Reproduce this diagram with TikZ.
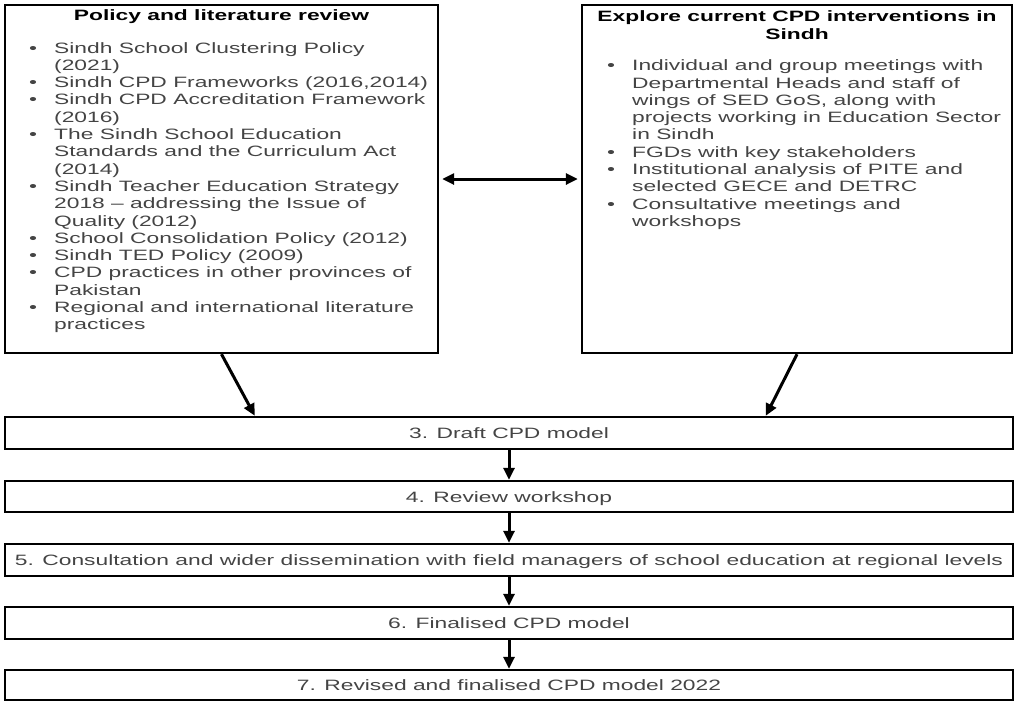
\documentclass[tikz,border=0pt]{standalone}
\usepackage{fontspec}
\setmainfont{Liberation Sans}[FakeStretch=1.52]
\usetikzlibrary{arrows.meta,calc}
\definecolor{bodygray}{HTML}{444444}
\begin{document}
\begin{tikzpicture}[x=1pt,y=-1pt,
  box/.style={draw,line width=2.4pt,inner sep=0pt},
  body/.style={text=bodygray,font=\fontsize{15}{17.3}\selectfont},
  ttl/.style={text=black,font=\fontsize{15}{17.3}\selectfont\bfseries},
  stepbox/.style={box,body,minimum width=1008pt,minimum height=32pt,text height=11pt,text depth=0pt},
  arr/.style={line width=3pt,-{Triangle[length=12pt,width=11pt]}},
  darr/.style={line width=3pt,{Triangle[length=12pt,width=11pt]}-{Triangle[length=12pt,width=11pt]}}]
\useasboundingbox (0,0) rectangle (1015,702);

% top boxes
\node[box,minimum width=433pt,minimum height=348pt] (lbox) at (221.5,179) {};
\node[box,minimum width=430pt,minimum height=348pt] (rbox) at (797,179) {};

\node[ttl,anchor=base,inner sep=0pt] (lttl) at (221.5,20) {Policy and literature review};
\node[body,anchor=base west,inner sep=0pt] (llist) at (29,53) {%
\begin{tabular}[t]{@{}p{25pt}@{}l@{}}
• & Sindh School Clustering Policy\\
  & (2021)\\
• & Sindh CPD Frameworks (2016,2014)\\
• & Sindh CPD Accreditation Framework\\
  & (2016)\\
• & The Sindh School Education\\
  & Standards and the Curriculum Act\\
  & (2014)\\
• & Sindh Teacher Education Strategy\\
  & 2018 – addressing the Issue of\\
  & Quality (2012)\\
• & School Consolidation Policy (2012)\\
• & Sindh TED Policy (2009)\\
• & CPD practices in other provinces of\\
  & Pakistan\\
• & Regional and international literature\\
  & practices
\end{tabular}};

\node[ttl,anchor=base,inner sep=0pt] (rttl) at (797,21.7) {%
\begin{tabular}[t]{@{}c@{}}
Explore current CPD interventions in\\
Sindh
\end{tabular}};
\node[body,anchor=base west,inner sep=0pt] (rlist) at (607,70.7) {%
\begin{tabular}[t]{@{}p{25pt}@{}l@{}}
• & Individual and group meetings with\\
  & Departmental Heads and staff of\\
  & wings of SED GoS, along with\\
  & projects working in Education Sector\\
  & in Sindh\\
• & FGDs with key stakeholders\\
• & Institutional analysis of PITE and\\
  & selected GECE and DETRC\\
• & Consultative meetings and\\
  & workshops
\end{tabular}};

% step boxes
\node[stepbox] (b3) at (509,433) {3. Draft CPD model};
\node[stepbox,minimum height=31pt] (b4) at (509,496.5) {4. Review workshop};
\node[stepbox] (b5) at (509,560) {5. Consultation and wider dissemination with field managers of school education at regional levels};
\node[stepbox] (b6) at (509,623) {6. Finalised CPD model};
\node[stepbox,minimum height=30pt] (b7) at (509,685) {7. Revised and finalised CPD model 2022};

% connectors
\draw[darr] ($(lbox.east)+(3,0)$) -- ($(rbox.west)+(-3,0)$);
\draw[arr] (lbox.south) -- ($(b3.north west)+(251,0)$);
\draw[arr] (rbox.south) -- ($(b3.north west)+(762,0)$);
\draw[arr] (b3.south) -- (b4.north);
\draw[arr] (b4.south) -- (b5.north);
\draw[arr] (b5.south) -- (b6.north);
\draw[arr] (b6.south) -- (b7.north);
\end{tikzpicture}
\end{document}
